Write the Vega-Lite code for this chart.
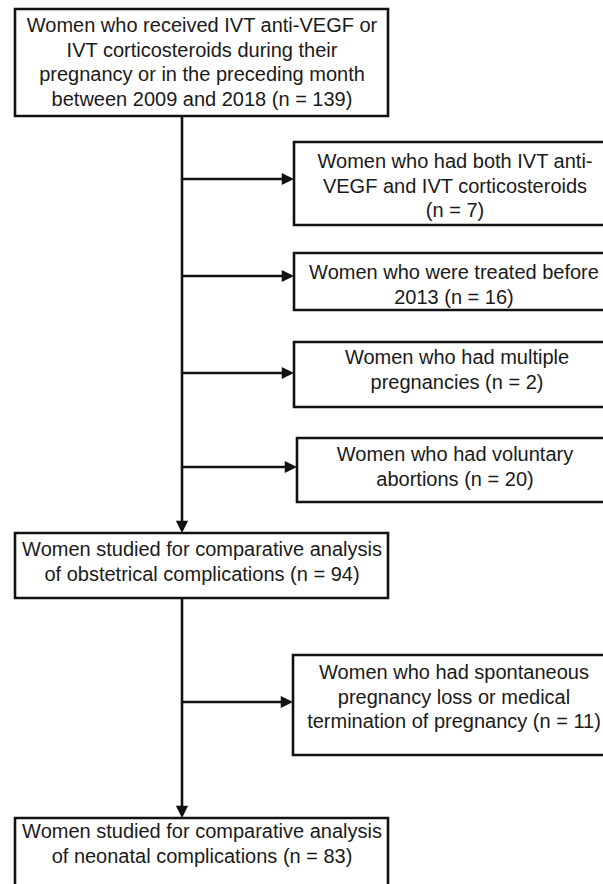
{
  "$schema": "https://vega.github.io/schema/vega-lite/v6.json",
  "width": 603,
  "height": 884,
  "padding": 0,
  "autosize": {"type": "fit", "contains": "padding"},
  "background": "white",
  "config": {"view": {"stroke": null}},
  "datasets": {
    "boxes": [
      {"id": "start", "x1": 15, "x2": 388, "y1": 9, "y2": 116, "cx": 202, "ty": 26, "label": "Women who received IVT anti-VEGF or\nIVT corticosteroids during their\npregnancy or in the preceding month\nbetween 2009 and 2018 (n = 139)"},
      {"id": "ex1", "x1": 294, "x2": 612, "y1": 142, "y2": 225, "cx": 455, "ty": 162, "label": "Women who had both IVT anti-\nVEGF and IVT corticosteroids\n(n = 7)"},
      {"id": "ex2", "x1": 294, "x2": 612, "y1": 253, "y2": 310, "cx": 454, "ty": 273, "label": "Women who were treated before\n2013 (n = 16)"},
      {"id": "ex3", "x1": 294, "x2": 612, "y1": 342, "y2": 407, "cx": 457, "ty": 358, "label": "Women who had multiple\npregnancies (n = 2)"},
      {"id": "ex4", "x1": 297, "x2": 612, "y1": 438, "y2": 502, "cx": 455, "ty": 455, "label": "Women who had voluntary\nabortions (n = 20)"},
      {"id": "obst", "x1": 15, "x2": 388, "y1": 533, "y2": 598, "cx": 202, "ty": 550, "label": "Women studied for comparative analysis\nof obstetrical complications (n = 94)"},
      {"id": "ex5", "x1": 293, "x2": 612, "y1": 655, "y2": 755, "cx": 454, "ty": 673, "label": "Women who had spontaneous\npregnancy loss or medical\ntermination of pregnancy (n = 11)"},
      {"id": "neo", "x1": 15, "x2": 388, "y1": 818, "y2": 892, "cx": 202, "ty": 832, "label": "Women studied for comparative analysis\nof neonatal complications (n = 83)"}
    ],
    "links": [
      {"x1": 182, "y1": 116, "x2": 182, "y2": 530},
      {"x1": 182, "y1": 179, "x2": 290, "y2": 179},
      {"x1": 182, "y1": 276, "x2": 290, "y2": 276},
      {"x1": 182, "y1": 373, "x2": 290, "y2": 373},
      {"x1": 182, "y1": 467, "x2": 293, "y2": 467},
      {"x1": 182, "y1": 598, "x2": 182, "y2": 815},
      {"x1": 182, "y1": 702, "x2": 289, "y2": 702}
    ],
    "arrows": [
      {"x": 182, "y": 533, "dir": "down"},
      {"x": 294, "y": 179, "dir": "right"},
      {"x": 294, "y": 276, "dir": "right"},
      {"x": 294, "y": 373, "dir": "right"},
      {"x": 297, "y": 467, "dir": "right"},
      {"x": 182, "y": 818, "dir": "down"},
      {"x": 293, "y": 702, "dir": "right"}
    ]
  },
  "encoding": {},
  "layer": [
    {
      "data": {"name": "links"},
      "mark": {"type": "rule", "stroke": "#111111", "strokeWidth": 2.6},
      "encoding": {
        "x": {"field": "x1", "type": "quantitative", "scale": {"domain": [0, 603], "nice": false, "zero": false}, "axis": null},
        "x2": {"field": "x2"},
        "y": {"field": "y1", "type": "quantitative", "scale": {"domain": [0, 884], "nice": false, "zero": false, "reverse": true}, "axis": null},
        "y2": {"field": "y2"}
      }
    },
    {
      "data": {"name": "boxes"},
      "mark": {"type": "rect", "fill": "white", "stroke": "#111111", "strokeWidth": 2.6, "clip": true},
      "encoding": {
        "x": {"field": "x1", "type": "quantitative"},
        "x2": {"field": "x2"},
        "y": {"field": "y1", "type": "quantitative"},
        "y2": {"field": "y2"}
      }
    },
    {
      "data": {"name": "arrows"},
      "transform": [{"filter": "datum.dir === 'right'"}],
      "mark": {"type": "point", "shape": "M0,0L-2,-1L-2,1Z", "filled": true, "fill": "#111111", "strokeWidth": 0, "size": 150, "opacity": 1},
      "encoding": {
        "x": {"field": "x", "type": "quantitative"},
        "y": {"field": "y", "type": "quantitative"}
      }
    },
    {
      "data": {"name": "arrows"},
      "transform": [{"filter": "datum.dir === 'down'"}],
      "mark": {"type": "point", "shape": "M0,0L-1,-2L1,-2Z", "filled": true, "fill": "#111111", "strokeWidth": 0, "size": 150, "opacity": 1},
      "encoding": {
        "x": {"field": "x", "type": "quantitative"},
        "y": {"field": "y", "type": "quantitative"}
      }
    },
    {
      "data": {"name": "boxes"},
      "mark": {"type": "text", "font": "Liberation Sans", "fontSize": 20, "lineHeight": 24.5, "lineBreak": "\n", "align": "center", "baseline": "middle", "color": "#1a1a1a"},
      "encoding": {
        "x": {"field": "cx", "type": "quantitative"},
        "y": {"field": "ty", "type": "quantitative"},
        "text": {"field": "label", "type": "nominal"}
      }
    }
  ]
}
